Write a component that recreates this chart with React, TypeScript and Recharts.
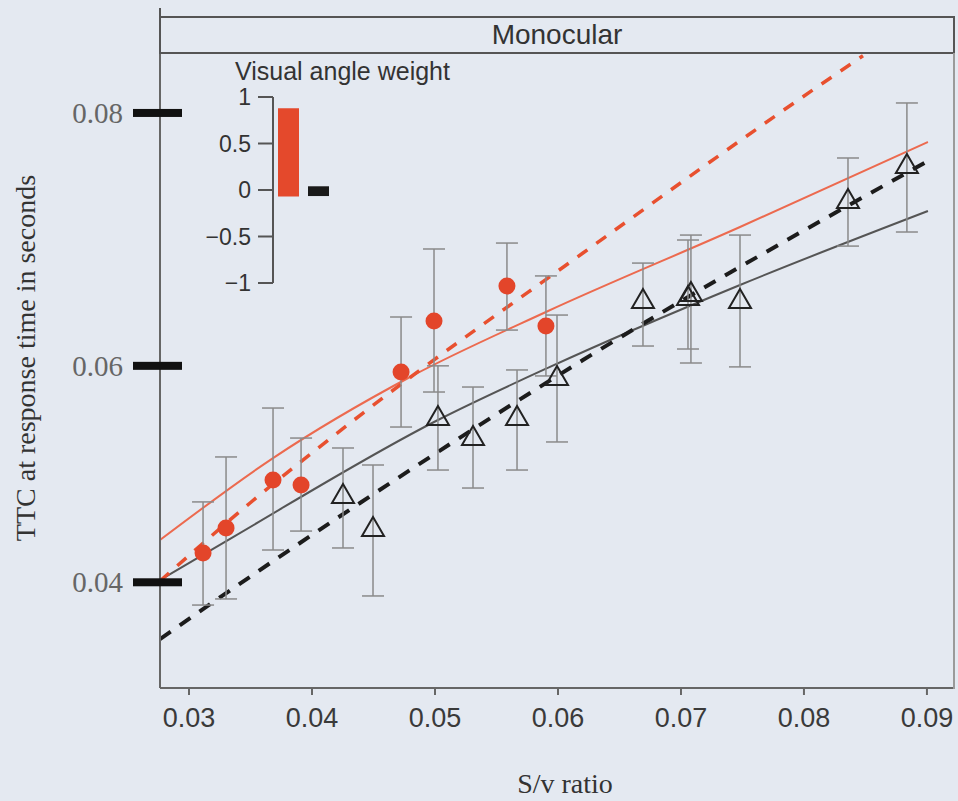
import React from 'react';
import { ComposedChart, Line, Scatter, XAxis, YAxis, ErrorBar, BarChart, Bar, Cell } from 'recharts';

// axis ticks
const xTicks = [0.03, 0.04, 0.05, 0.06, 0.07, 0.08, 0.09];
const yTicks = [0.04, 0.06, 0.08];

// red circles (mean TTC, error bar low/high)
const redX = [0.03114, 0.03301, 0.03683, 0.03911, 0.04724, 0.04992, 0.05585, 0.05902];
const redY = [0.04294, 0.04539, 0.04991, 0.04945, 0.05948, 0.06375, 0.06661, 0.06334];
const redLo = [0.03764, 0.03828, 0.04324, 0.04509, 0.0547, 0.05776, 0.063, 0.05914];
const redHi = [0.04787, 0.05202, 0.05637, 0.05372, 0.06408, 0.06957, 0.07004, 0.06742];

// open triangles
const triX = [0.04252, 0.04496, 0.05024, 0.05309, 0.05667, 0.05992, 0.06691, 0.07057, 0.07081, 0.0748, 0.08358, 0.08837];
const triY = [0.04852, 0.04539, 0.05558, 0.05381, 0.05558, 0.05905, 0.06547, 0.06572, 0.06604, 0.06547, 0.07341, 0.07608];
const triLo = [0.04344, 0.03859, 0.05083, 0.04917, 0.05083, 0.05337, 0.06167, 0.06142, 0.06024, 0.05991, 0.0698, 0.07091];
const triHi = [0.05283, 0.05129, 0.06, 0.05819, 0.05965, 0.06424, 0.06845, 0.07028, 0.07067, 0.07067, 0.07662, 0.08074];

// model curves
const redSolidX = [0.02764, 0.03683, 0.04797, 0.05902, 0.0748, 0.09008];
const redSolidY = [0.04422, 0.05192, 0.05905, 0.06449, 0.0713, 0.07783];
const blackSolidX = [0.02764, 0.03358, 0.05024, 0.05935, 0.0748, 0.09008];
const blackSolidY = [0.04023, 0.04451, 0.05532, 0.05991, 0.06669, 0.07255];
const redDashX = [0.02764, 0.03496, 0.04415, 0.06203, 0.0813, 0.0848];
const redDashY = [0.04013, 0.04777, 0.05593, 0.06925, 0.08206, 0.0842];
const blackDashX = [0.02764, 0.03398, 0.0439, 0.06203, 0.09008];
const blackDashY = [0.03398, 0.03972, 0.04777, 0.06049, 0.07639];

// inset: visual angle weight
const weightNames = ['red', 'black'];
const weightValues = [0.88, 0.04];
const weightBase = [-0.07, -0.065];
const weightColors = ['#e4492c', '#1a1a1a'];
const weightTicks = [-1, -0.5, 0, 0.5, 1];

const BG = '#e4e9f1';
const SANS = '"Liberation Sans", Arial, sans-serif';
const SERIF = '"Liberation Serif", "Times New Roman", serif';

const toLine = (xs: number[], ys: number[]) => xs.map((x, i) => ({ x, y: ys[i] }));
const toPoints = (xs: number[], ys: number[], lo: number[], hi: number[]) =>
  xs.map((x, i) => ({ x, y: ys[i], err: [ys[i] - lo[i], hi[i] - ys[i]] }));

const redPoints = toPoints(redX, redY, redLo, redHi);
const triPoints = toPoints(triX, triY, triLo, triHi);
const weightData = weightNames.map((name, i) => ({ name, range: [weightBase[i], weightValues[i]] }));

// power scale for the y axis (tick spacing in the figure widens upward)
function makePowScale(exponent: number, dom: number[] = [0, 1], rng: number[] = [0, 1]): any {
  const f = (v: number) => Math.pow(v, exponent);
  const scale: any = (v: number) => {
    const a = f(dom[0]);
    const b = f(dom[1]);
    return rng[0] + ((f(Number(v)) - a) / (b - a)) * (rng[1] - rng[0]);
  };
  scale.domain = (d?: number[]) => {
    if (d === undefined) return dom.slice();
    dom = [Number(d[0]), Number(d[d.length - 1])];
    return scale;
  };
  scale.range = (r?: number[]) => {
    if (r === undefined) return rng.slice();
    rng = [Number(r[0]), Number(r[r.length - 1])];
    return scale;
  };
  scale.invert = (p: number) => {
    const a = f(dom[0]);
    const b = f(dom[1]);
    return Math.pow(a + ((p - rng[0]) / (rng[1] - rng[0])) * (b - a), 1 / exponent);
  };
  scale.ticks = (count = 5) => {
    const step = Math.pow(10, Math.floor(Math.log10((dom[1] - dom[0]) / count)));
    const out: number[] = [];
    for (let v = Math.ceil(dom[0] / step) * step; v <= dom[1] + 1e-12; v += step) out.push(+v.toFixed(10));
    return out;
  };
  scale.tickFormat = () => (v: number) => String(v);
  scale.nice = () => scale;
  scale.copy = () => makePowScale(exponent, dom.slice(), rng.slice());
  return scale;
}

const yScale = makePowScale(1.46);

const YTick = (props: any) => {
  const { x, y, payload } = props;
  return (
    <g>
      <rect x={x + 10} y={y - 4} width={49} height={8} fill="#111" />
      <text x={x} y={y} dy="0.35em" textAnchor="end" fontFamily={SERIF} fontSize={29} fill="#666">
        {payload.value.toFixed(2)}
      </text>
    </g>
  );
};

const Triangle = (props: any) => {
  const { cx, cy } = props;
  if (cx == null || cy == null) return null;
  return <path d={`M${cx},${cy - 11}L${cx - 11},${cy + 8}L${cx + 11},${cy + 8}Z`} fill="none" stroke="#222" strokeWidth={2} />;
};

const Dot = (props: any) => {
  const { cx, cy } = props;
  if (cx == null || cy == null) return null;
  return <circle cx={cx} cy={cy} r={8.5} fill="#e3452a" />;
};

export default function App() {
  return (
    <div style={{ position: 'absolute', left: 0, top: 0, width: 958, height: 801, background: BG, overflow: 'hidden' }}>
      <ComposedChart width={958} height={801} margin={{ top: 53, right: 4, bottom: 63, left: 10 }}>
        <XAxis
          dataKey="x"
          type="number"
          domain={[0.02764, 0.0922]}
          allowDataOverflow
          ticks={xTicks}
          tickFormatter={(v: number) => v.toFixed(2)}
          height={50}
          tickSize={7}
          tickMargin={13}
          stroke="#666"
          strokeWidth={2}
          tick={{ fontSize: 27, fill: '#3a3a3a', fontFamily: SANS }}
        />
        <YAxis
          dataKey="y"
          type="number"
          scale={yScale}
          domain={[0.02837, 0.0844]}
          allowDataOverflow
          ticks={yTicks}
          width={150}
          tickSize={27}
          tickMargin={10}
          tickLine={false}
          stroke="#666"
          strokeWidth={2}
          tick={<YTick />}
        />
        <Line data={toLine(blackSolidX, blackSolidY)} dataKey="y" type="monotone" stroke="#555" strokeWidth={2} dot={false} isAnimationActive={false} />
        <Line data={toLine(redSolidX, redSolidY)} dataKey="y" type="monotone" stroke="#ec6a4f" strokeWidth={2} dot={false} isAnimationActive={false} />
        <Line data={toLine(blackDashX, blackDashY)} dataKey="y" type="monotone" stroke="#1c1c1c" strokeWidth={4} strokeDasharray="13 11" dot={false} isAnimationActive={false} />
        <Line data={toLine(redDashX, redDashY)} dataKey="y" type="monotone" stroke="#e8502f" strokeWidth={3.5} strokeDasharray="12 11" dot={false} isAnimationActive={false} />
        <Scatter data={triPoints} shape={<Triangle />} isAnimationActive={false}>
          <ErrorBar dataKey="err" direction="y" width={11} stroke="#8a8a8a" strokeWidth={1.5} />
        </Scatter>
        <Scatter data={redPoints} shape={<Dot />} isAnimationActive={false}>
          <ErrorBar dataKey="err" direction="y" width={11} stroke="#8a8a8a" strokeWidth={1.5} />
        </Scatter>
      </ComposedChart>

      {/* panel strip and right border */}
      <div
        style={{
          position: 'absolute', left: 159, top: 16, width: 796, height: 38, boxSizing: 'border-box',
          border: '2px solid #555', background: BG, display: 'flex', alignItems: 'center', justifyContent: 'center',
          fontFamily: SANS, fontSize: 28, color: '#333',
        }}
      >
        Monocular
      </div>
      <div style={{ position: 'absolute', left: 159, top: 8, width: 0, height: 10, borderLeft: '2px solid #555' }} />
      <div style={{ position: 'absolute', left: 953, top: 53, width: 0, height: 636, borderLeft: '2px solid #9a9a9a' }} />

      {/* inset */}
      <div style={{ position: 'absolute', left: 235, top: 58, fontFamily: SANS, fontSize: 25, color: '#333', lineHeight: '26px', whiteSpace: 'nowrap' }}>
        Visual angle weight
      </div>
      <div style={{ position: 'absolute', left: 180, top: 70 }}>
        <BarChart width={200} height={230} data={weightData} margin={{ top: 27, right: 47, bottom: 17, left: 33 }} barSize={21}>
          <XAxis dataKey="name" hide />
          <YAxis
            type="number"
            domain={[-1, 1]}
            ticks={weightTicks}
            width={60}
            tickSize={15}
            tickMargin={7}
            stroke="#555"
            strokeWidth={2}
            tickFormatter={(v: number) => (v < 0 ? '\u2212' + Math.abs(v) : String(v))}
            tick={{ fontSize: 23, fill: '#333', fontFamily: SANS }}
          />
          <Bar dataKey="range" isAnimationActive={false}>
            {weightData.map((d, i) => (
              <Cell key={d.name} fill={weightColors[i]} />
            ))}
          </Bar>
        </BarChart>
      </div>

      {/* axis titles */}
      <div
        style={{
          position: 'absolute', left: 26, top: 358, transform: 'translate(-50%, -50%) rotate(-90deg)',
          fontFamily: SERIF, fontSize: 28, color: '#333', whiteSpace: 'nowrap',
        }}
      >
        TTC at response time in seconds
      </div>
      <div
        style={{
          position: 'absolute', left: 565, top: 784, transform: 'translate(-50%, -50%)',
          fontFamily: SERIF, fontSize: 28, lineHeight: '30px', color: '#333', whiteSpace: 'nowrap',
        }}
      >
        S/v ratio
      </div>
    </div>
  );
}
